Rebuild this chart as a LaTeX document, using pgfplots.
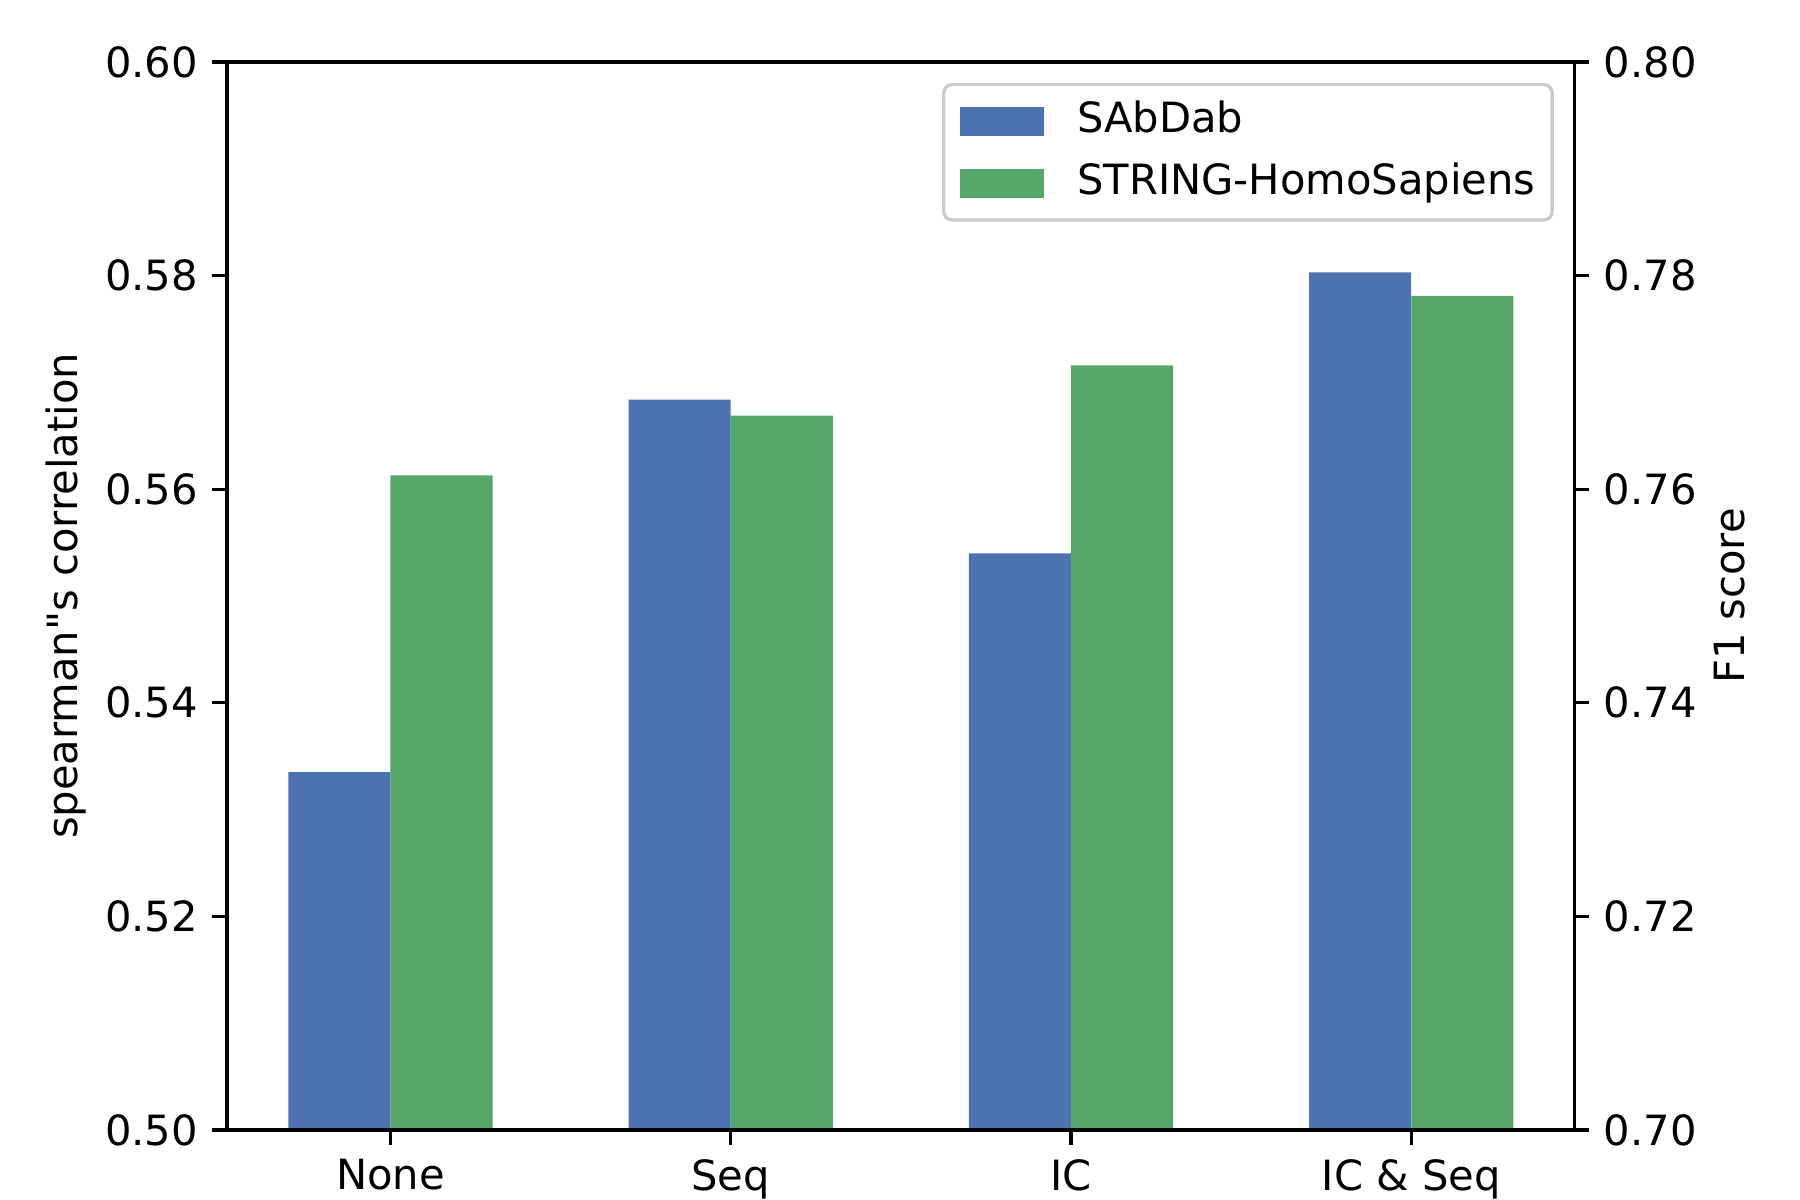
\documentclass[border=0pt]{standalone}
\usepackage{fontspec}
\setmainfont{DejaVu Sans}
\newfontfamily\plainfont{DejaVu Sans}
\usepackage{pgfplots}
\pgfplotsset{compat=1.18}
\definecolor{cblue}{HTML}{4C72B0}
\definecolor{cgreen}{HTML}{55A868}
\begin{document}
\begin{tikzpicture}
\path[use as bounding box] (0,0) rectangle (432pt,288pt);
\pgfplotsset{
  common/.style={
    at={(54.5pt,16.8pt)}, anchor=south west,
    width=323.4pt, height=256.3pt, scale only axis,
    xmin=-0.48, xmax=3.48,
    tick align=outside, major tick length=3.5pt,
    every tick/.style={black, line width=0.8pt},
    axis line style={line width=0.8pt},
    font=\fontsize{10}{12}\selectfont,
    /pgf/number format/assume math mode=true,
    ybar, bar width=0.3,
    legend image code/.code={\fill[#1, fill opacity=1, sharp corners] (0pt,-3.5pt) rectangle (20pt,3.5pt);},
  }
}
% right axis (F1 score), green bars, legend
\begin{axis}[common,
  ymin=0.7, ymax=0.8,
  axis y line*=right, hide x axis,
  ytick={0.70,0.72,0.74,0.76,0.78,0.80},
  yticklabels={0.70,0.72,0.74,0.76,0.78,0.80},
  ylabel={F1 score},
  every axis y label/.style={at={(axis description cs:1.115,0.5)}, rotate=90, anchor=center},
  legend style={at={(rel axis cs:1,1)}, xshift=-5pt, yshift=-5pt, anchor=north east,
    draw=black!20, line width=0.8pt, rounded corners=2pt, fill=white, fill opacity=0.8, text opacity=1,
    inner sep=4pt, row sep=5.3pt,
    nodes={inner sep=0pt, text height=7.6pt, text depth=2pt, anchor=west},
    /tikz/every odd column/.append style={column sep=8pt},
    font=\fontsize{10}{12}\selectfont},
  legend cell align=left,
]
\addlegendimage{fill=cblue, draw=none}
\addlegendentry{SAbDab}
\addplot[fill=cgreen, draw=none, bar shift=0pt] coordinates {(0.15,0.7613) (1.15,0.7669) (2.15,0.7716) (3.15,0.7781)};
\addlegendentry{STRING-HomoSapiens}
\end{axis}
% left axis (spearman), blue bars
\begin{axis}[common, axis on top,
  ymin=0.5, ymax=0.6,
  ytick={0.50,0.52,0.54,0.56,0.58,0.60},
  yticklabels={0.50,0.52,0.54,0.56,0.58,0.60},
  ytick pos=left, xtick pos=lower,
  xtick={0,1,2,3}, xticklabels={None,Seq,IC,IC \& Seq},
  ylabel={{\plainfont spearman"s correlation}},
  every axis y label/.style={at={(axis description cs:-0.1199,0.5)}, rotate=90, anchor=center},
]
\addplot[fill=cblue, draw=none, bar shift=0pt] coordinates {(-0.15,0.5335) (0.85,0.5684) (1.85,0.5540) (2.85,0.5803)};
\end{axis}
\end{tikzpicture}
\end{document}
